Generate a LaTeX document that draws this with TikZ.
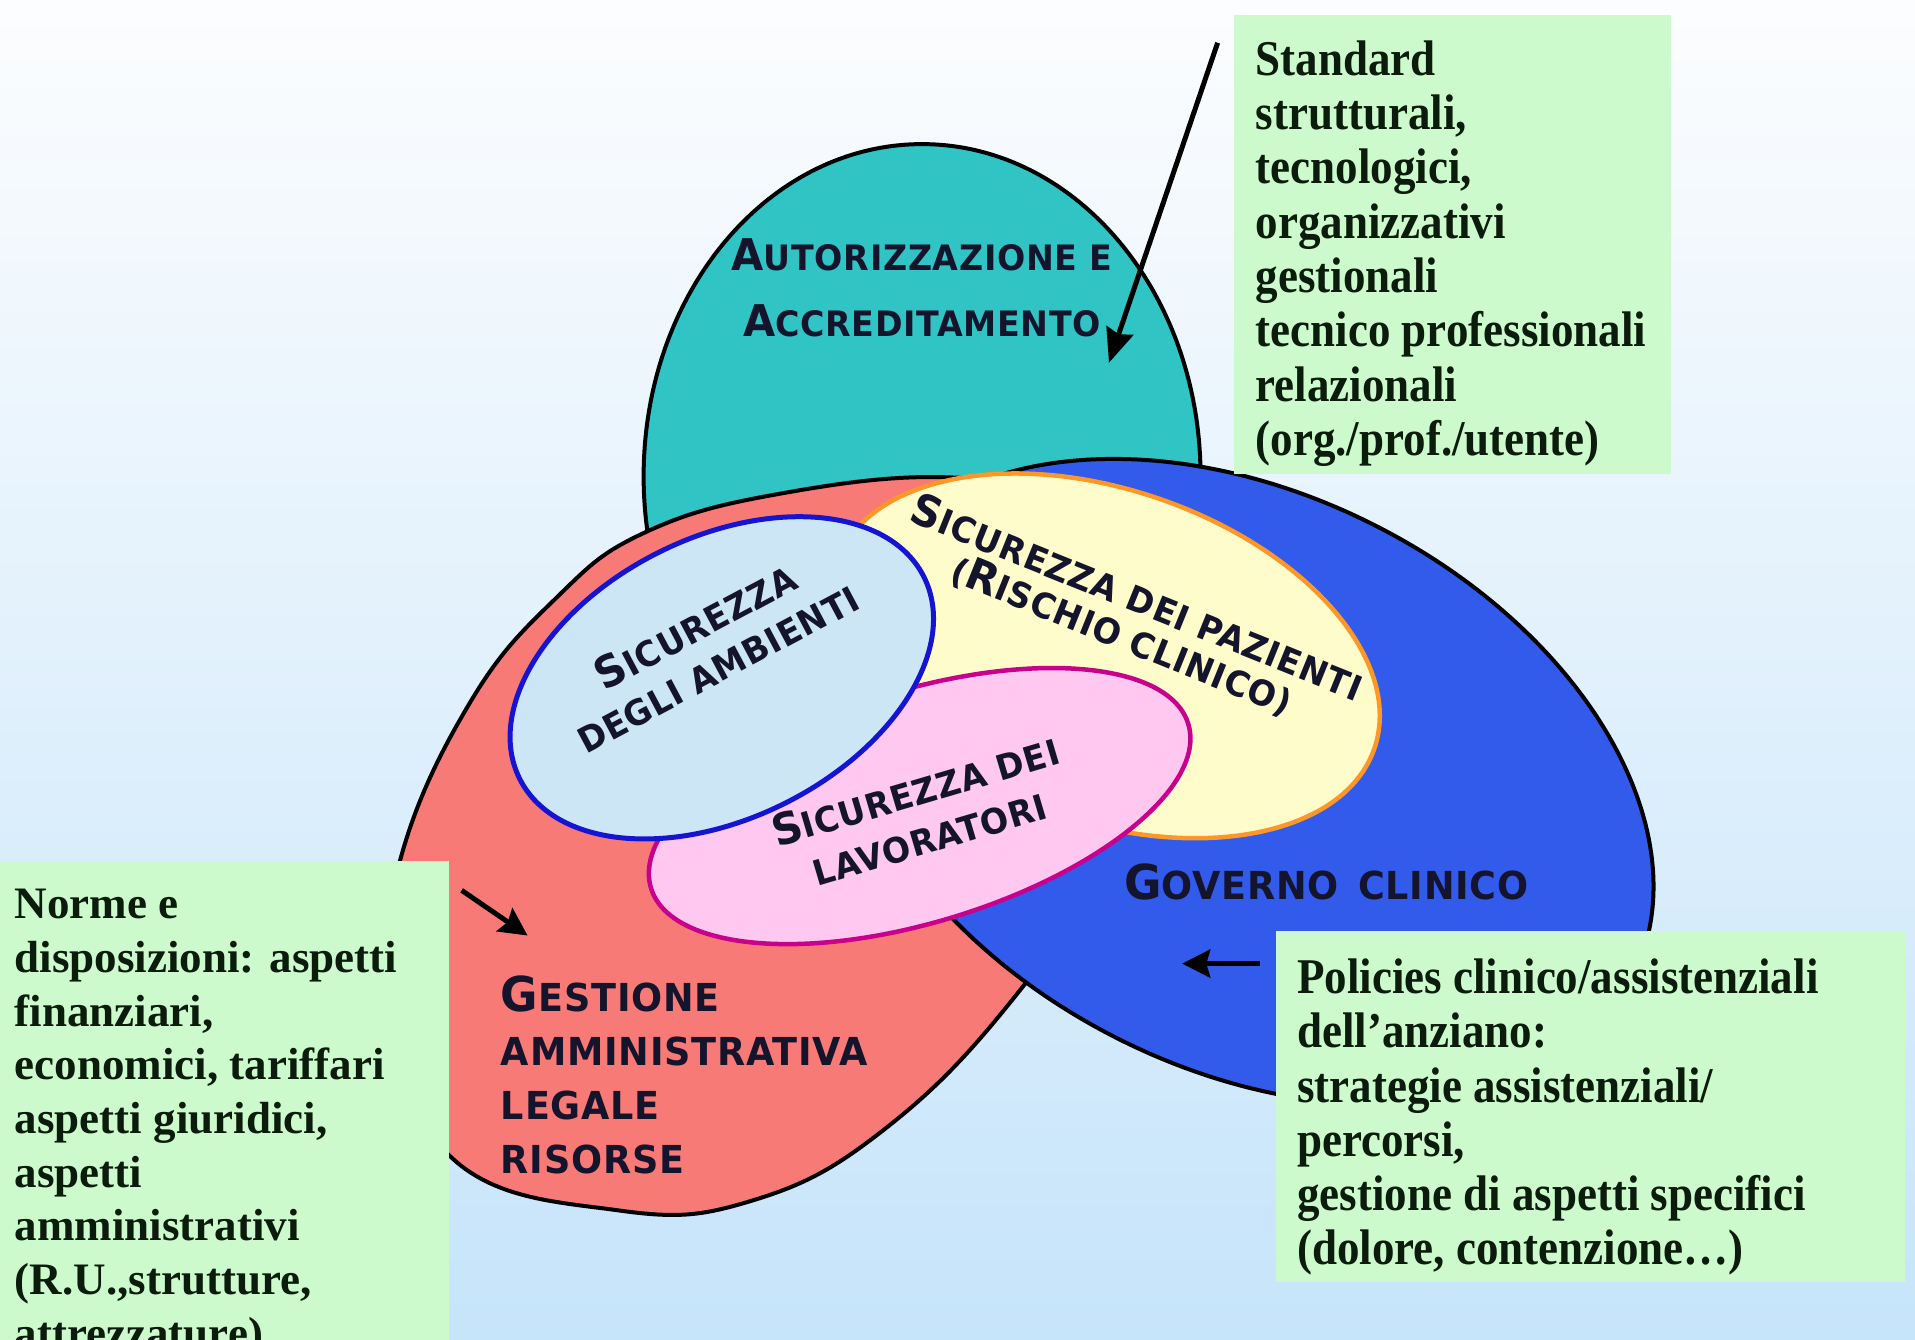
\documentclass[tikz,border=0pt]{standalone}
\usepackage{fontspec}
\setmainfont{Liberation Serif}
\newfontfamily\notefont{Liberation Serif Bold}[FakeStretch=0.9]
\newfontfamily\noteplain{Liberation Serif Bold}
\newfontfamily\capfont{DejaVu Sans Bold}[FakeStretch=0.95,LetterSpace=2]
\usetikzlibrary{arrows.meta}

\definecolor{bgtop}{RGB}{252,253,254}
\definecolor{bgbottom}{RGB}{198,228,250}
\definecolor{tealfill}{RGB}{48,196,196}
\definecolor{redfill}{RGB}{248,122,118}
\definecolor{bluefill}{RGB}{50,90,235}
\definecolor{yelfill}{RGB}{255,252,204}
\definecolor{pinkfill}{RGB}{255,200,240}
\definecolor{skyfill}{RGB}{204,230,246}
\definecolor{notefill}{RGB}{204,250,204}
\definecolor{skyline}{RGB}{20,20,210}
\definecolor{orangeline}{RGB}{255,150,40}
\definecolor{magline}{RGB}{200,0,140}
\definecolor{labelink}{RGB}{20,20,45}
\definecolor{noteink}{RGB}{12,28,12}

% big initial of a small-caps label (size set by the lbl style)
\newcommand\bcsz{44pt}
\newcommand\BC[1]{{\fontsize{\bcsz}{\bcsz}\selectfont #1}}

\begin{document}
\begin{tikzpicture}[x=1.2213pt, y=-1.2213pt,
  outl/.style={draw=black, line width=4pt},
  lbl/.style 2 args={font=\capfont\fontsize{#1}{#2}\selectfont
              \edef\bcsz{\the\dimexpr #1*5/4\relax},
              text=labelink, inner sep=0pt, align=center},
  notetext/.style={text=noteink, inner sep=0pt, align=left, anchor=north west},
  arr/.style={-{Stealth[length=34pt,width=28pt,inset=4pt]}, line width=5pt, draw=black},
  smallarr/.style={-{Stealth[length=28pt,width=28pt,inset=4pt]}, line width=5pt, draw=black}]

\useasboundingbox (0,0) rectangle (1568,1097);
\clip (0,0) rectangle (1568,1097);

% background
\shade[top color=bgtop, bottom color=bgbottom] (0,0) rectangle (1568,1097);

% Autorizzazione e accreditamento
\draw[outl, fill=tealfill] (755,390) ellipse [x radius=228, y radius=272];

% Gestione amministrativa
\draw[outl, fill=redfill] plot[smooth cycle, tension=0.7] coordinates
  {(318,820) (328,703) (385,575) (455,490) (528,436) (640,404) (781,391)
   (885,415) (940,520) (935,660) (835,811) (725,924) (616,983) (506,991) (371,949)};

% Governo clinico
\draw[outl, fill=bluefill, shift={(1020,640)}, rotate=-27]
  (0,0) ellipse [x radius=355, y radius=235];

% Sicurezza dei pazienti
\draw[draw=orangeline, line width=4.5pt, fill=yelfill, shift={(905,537)}, rotate=-19]
  (0,0) ellipse [x radius=233, y radius=136];

% Sicurezza dei lavoratori
\draw[draw=magline, line width=4.5pt, fill=pinkfill, shift={(753,660)}, rotate=17]
  (0,0) ellipse [x radius=230, y radius=95];

% Sicurezza degli ambienti
\draw[draw=skyline, line width=5pt, fill=skyfill, shift={(591,555)}, rotate=26.5]
  (0,0) ellipse [x radius=185, y radius=115];

% note boxes
\fill[notefill] (1010,12) rectangle (1368,388);
\fill[notefill] (0,705) rectangle (368,1110);
\fill[notefill] (1045,762) rectangle (1560,1050);

% labels of the areas
\node[lbl={35pt}{66pt}] (tAcc) at (755,236) {\BC{A}UTORIZZAZIONE E\\\BC{A}CCREDITAMENTO};
\node[lbl={38.5pt}{54pt}, align=left, anchor=west] (tGest) at (410,880)
  {\BC{G}ESTIONE\\AMMINISTRATIVA\\LEGALE\\RISORSE};
\node[lbl={38.5pt}{40pt}] (tGov) at (1086,722) {\BC{G}OVERNO\hspace{6pt} CLINICO};
\node[lbl={35pt}{47pt}, rotate=28] (tAmb) at (578,529) {\BC{S}ICUREZZA\\DEGLI AMBIENTI};
\node[lbl={35pt}{40pt}, rotate=-22] (tPaz) at (925,505)
  {\BC{S}ICUREZZA DEI PAZIENTI\\(\BC{R}ISCHIO CLINICO)};
\node[lbl={35pt}{49pt}, rotate=16.5] (tLav) at (755,666) {\BC{S}ICUREZZA DEI\\LAVORATORI};

% notes
\node[notetext, font=\notefont\fontsize{50pt}{54.3pt}\selectfont] (nStd) at (1028,33)
  {Standard\\strutturali,\\tecnologici,\\organizzativi\\gestionali\\tecnico professionali\\relazionali\\(org./prof./utente)};
\node[notetext, font=\noteplain\fontsize{45pt}{53.7pt}\selectfont] (nNorme) at (12,728)
  {Norme e\\disposizioni: aspetti\\finanziari,\\economici, tariffari\\aspetti giuridici,\\aspetti\\amministrativi\\(R.U.,strutture,\\attrezzature)};
\node[notetext, font=\notefont\fontsize{50pt}{54.2pt}\selectfont] (nPol) at (1062,785)
  {Policies clinico/assistenziali\\dell’anziano:\\strategie assistenziali/\\percorsi,\\gestione di aspetti specifici\\(dolore, contenzione…)};

% pointers
\coordinate (a1s) at (997,35);
\coordinate (a1e) at (908,297);
\coordinate (a2s) at (378,729);
\coordinate (a2e) at (432,766);
\coordinate (a3s) at (1032,789);
\coordinate (a3e) at (968,789);
\draw[arr] (a1s) -- (a1e);
\draw[smallarr] (a2s) -- (a2e);
\draw[smallarr] (a3s) -- (a3e);
\end{tikzpicture}
\end{document}
